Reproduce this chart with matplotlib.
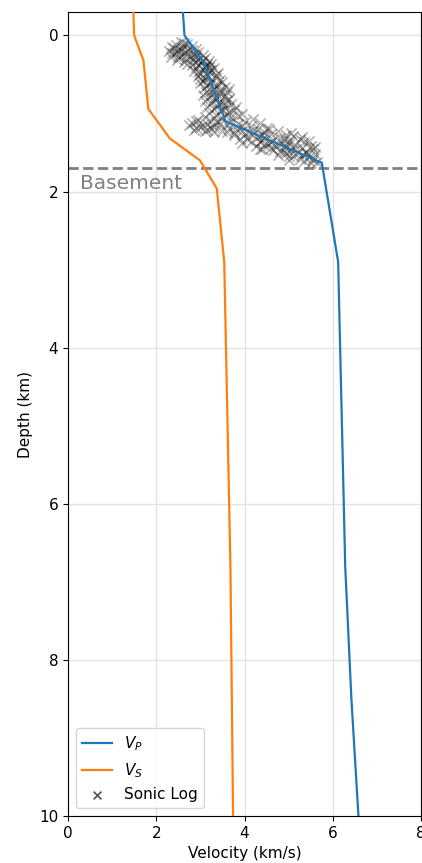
import numpy as np
import matplotlib.pyplot as plt

# velocity model (depth in km, velocity in km/s)
vp_depth = [-0.5, 0.0, 0.34, 1.10, 1.63, 2.90, 6.80, 8.50, 10.0]
vp_vel = [2.58, 2.64, 3.07, 3.57, 5.75, 6.12, 6.28, 6.42, 6.58]

vs_depth = [-0.5, 0.0, 0.32, 0.94, 1.32, 1.60, 1.96, 2.90, 6.80, 10.0]
vs_vel = [1.47, 1.50, 1.71, 1.82, 2.31, 2.99, 3.37, 3.54, 3.68, 3.74]

basement_depth = 1.70

# sonic log picks
sonic_depth = [
    0.10, 0.12, 0.13, 0.15, 0.16, 0.17, 0.18, 0.19, 0.20, 0.21, 0.22, 0.23, 0.24, 0.25,
    0.26, 0.27, 0.28, 0.29, 0.30, 0.31, 0.32, 0.33, 0.34, 0.35, 0.36, 0.37, 0.38, 0.39,
    0.40, 0.42, 0.43, 0.45, 0.46, 0.48, 0.49, 0.51, 0.52, 0.54, 0.55, 0.57, 0.58, 0.60,
    0.61, 0.63, 0.64, 0.66, 0.67, 0.69, 0.70, 0.72, 0.73, 0.75, 0.76, 0.78, 0.79, 0.81,
    0.82, 0.84, 0.85, 0.87, 0.88, 0.90, 0.91, 0.93, 0.94, 0.96, 0.97, 0.99,
    1.00, 1.02, 1.03, 1.05, 1.06, 1.08, 1.09, 1.10, 1.11, 1.12, 1.13, 1.14, 1.15, 1.16,
    1.17, 1.18, 1.19, 1.20, 1.21, 1.22, 1.23, 1.24, 1.25,
    1.20, 1.22, 1.24, 1.26, 1.27, 1.28, 1.29, 1.30, 1.31, 1.32, 1.33, 1.34, 1.35, 1.36,
    1.37, 1.38, 1.39, 1.40, 1.41, 1.42, 1.43, 1.44, 1.45, 1.46, 1.47, 1.48, 1.49, 1.50,
    1.51, 1.52, 1.53, 1.55, 1.56, 1.58, 1.60, 1.62,
    0.08, 0.11, 0.14, 0.16, 0.18, 0.20, 0.22, 0.24, 0.26, 0.28, 0.30, 0.32, 0.34, 0.36,
    0.38, 0.40,
    0.41, 0.44, 0.47, 0.50, 0.53, 0.56, 0.59, 0.62, 0.65, 0.68, 0.71, 0.74, 0.77, 0.80,
    0.83, 0.86, 0.89, 0.92, 0.95, 0.98,
    1.01, 1.04, 1.07, 1.09, 1.12, 1.14, 1.16, 1.18, 1.20, 1.22, 1.24, 1.26, 1.28, 1.30,
    1.32, 1.34, 1.36, 1.38, 1.40, 1.42, 1.44, 1.46,
    1.25, 1.27, 1.30, 1.33, 1.35, 1.37, 1.39, 1.41, 1.43, 1.45, 1.47, 1.49, 1.51, 1.53,
    1.54, 1.57, 1.59, 1.61, 1.63,
    1.10, 1.13, 1.15, 1.17, 1.19, 1.21, 1.23, 1.11, 1.24,
]
sonic_vel = [
    2.62, 2.45, 2.80, 2.35, 2.58, 2.90, 2.50, 2.72, 2.30, 2.95, 2.62, 2.42, 2.85, 3.05,
    2.55, 2.33, 2.78, 3.10, 2.68, 2.95, 2.48, 3.20, 2.88, 3.02, 2.70, 3.25, 2.95, 3.12,
    2.90, 3.30, 3.05, 2.85, 3.20, 3.40, 3.00, 3.15, 2.95, 3.35, 3.10, 3.45, 3.05, 3.25,
    2.98, 3.40, 3.15, 3.55, 3.08, 3.30, 3.45, 3.12, 3.60, 3.28, 3.05, 3.42, 3.20, 3.65,
    3.35, 3.10, 3.50, 3.25, 3.70, 3.38, 3.15, 3.55, 3.30, 3.75, 3.45, 3.20,
    3.60, 3.35, 3.85, 3.10, 3.50, 2.95, 3.70, 3.25, 4.00, 2.80, 3.45, 3.85, 3.05, 4.15,
    3.30, 2.90, 3.65, 4.30, 3.15, 3.95, 3.50, 4.45, 3.75,
    4.55, 4.75, 4.10, 4.60, 4.95, 4.20, 5.10, 4.45, 4.80, 5.25, 4.05, 4.65, 5.00, 4.35,
    5.35, 4.85, 4.55, 5.15, 5.50, 4.70, 4.95, 5.30, 4.40, 5.55, 5.05, 4.80, 5.40, 5.20,
    4.95, 5.60, 5.30, 5.10, 5.45, 5.25, 5.55, 5.65,
    2.55, 2.70, 2.60, 2.40, 2.82, 2.55, 2.35, 2.70, 2.90, 2.50, 2.85, 3.05, 2.62, 3.15,
    2.80, 3.20,
    3.10, 3.25, 2.95, 3.35, 3.20, 3.00, 3.50, 3.20, 3.35, 3.65, 3.25, 3.45, 3.55, 3.30,
    3.60, 3.40, 3.55, 3.80, 3.50, 3.65,
    3.95, 3.70, 4.20, 3.40, 4.35, 3.60, 3.95, 4.50, 3.80, 4.20, 3.60, 4.00, 3.75, 4.30,
    3.90, 4.40, 4.15, 3.95, 4.45, 4.25, 4.60, 4.35,
    5.05, 4.40, 5.30, 4.90, 5.45, 4.60, 5.00, 4.90, 5.60, 5.15, 4.65, 4.90, 5.40, 4.75,
    5.00, 5.55, 5.00, 5.35, 5.50,
    2.90, 3.15, 2.75, 3.00, 3.25, 2.85, 3.10, 3.35, 3.30,
]

plt.rcParams['font.size'] = 11

fig = plt.figure(figsize=(4.22, 8.63), dpi=100)
ax = fig.add_axes([0.161, 0.0545, 0.837, 0.9315])

ax.plot(vp_vel, vp_depth, color='tab:blue', lw=1.6, label=r'$V_P$', zorder=3)
ax.plot(vs_vel, vs_depth, color='tab:orange', lw=1.6, label=r'$V_S$', zorder=3)
ax.scatter(sonic_vel, sonic_depth, marker='x', s=55, color='k', alpha=0.28,
           linewidths=1.3, label='Sonic Log', zorder=2)

ax.axhline(basement_depth, color='gray', ls='--', lw=2, zorder=1)
ax.text(0.27, 1.78, 'Basement', color='gray', fontsize=14.5, va='top')

ax.set_xlim(0, 8)
ax.set_ylim(10, -0.3)
ax.set_xticks([0, 2, 4, 6, 8])
ax.set_yticks([0, 2, 4, 6, 8, 10])
ax.grid(True, color='#e3e3e3', lw=1)
ax.set_axisbelow(True)
ax.set_xlabel('Velocity (km/s)')
ax.set_ylabel('Depth (km)')
leg = ax.legend(loc='lower left', fontsize=11, markerscale=0.75)
leg.legend_handles[2].set_alpha(0.65)

fig.savefig('out.png', dpi=100)
